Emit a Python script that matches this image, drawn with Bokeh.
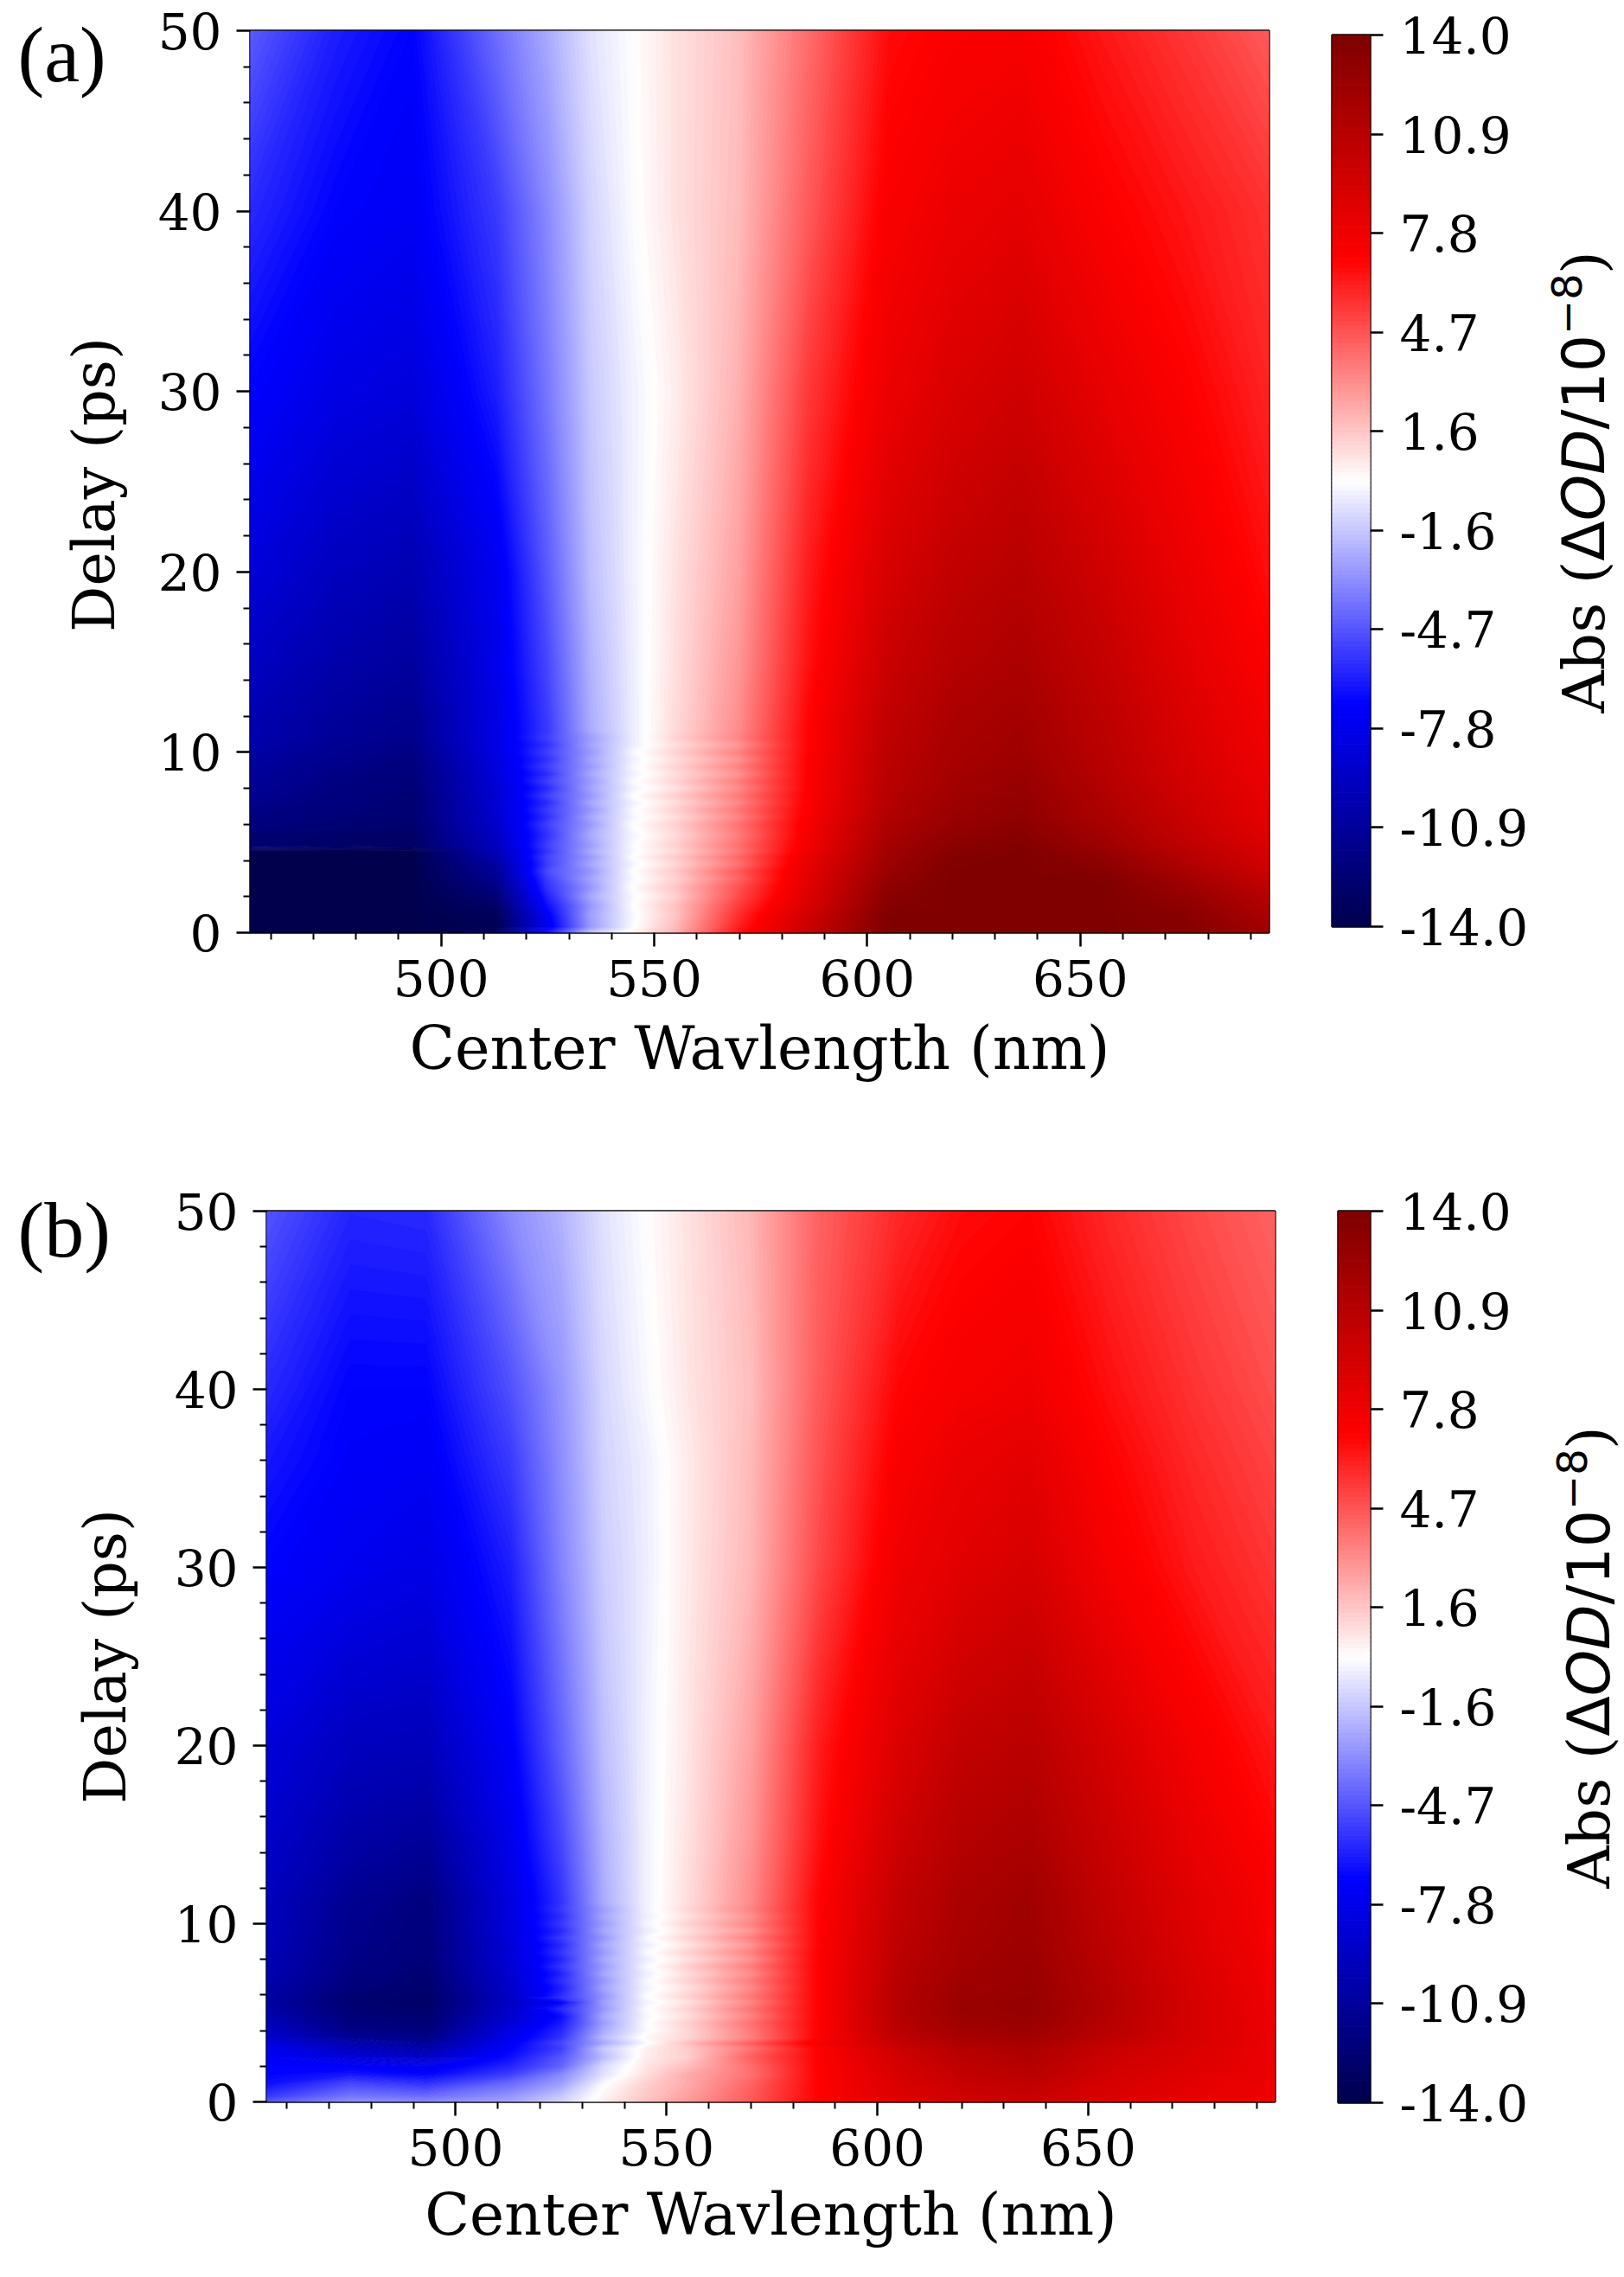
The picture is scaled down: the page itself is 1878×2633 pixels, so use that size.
#! /usr/bin/env python3
# Transient absorption maps (a) and (b) with their colour bars.

import numpy as np
from bokeh.embed import file_html
from bokeh.layouts import column, row
from bokeh.models import FixedTicker, Label, LinearAxis, Range1d
from bokeh.plotting import figure
from bokeh.resources import INLINE

wavelengths = [455, 475, 493, 513, 525, 535, 545, 555, 570, 586, 605, 620, 636, 655, 675, 695]

delays_a = [0, 0.3, 1, 1.5, 2, 2.5, 3, 3.4, 3.8, 4.2, 4.5, 4.8, 5.4, 6, 6.4, 6.8, 7.2, 7.6,
            8, 8.4, 8.8, 9.2, 9.6, 10, 10.4, 10.8, 11.2, 15, 20, 30, 40, 50]
abs_a = [
    [-13.9, -13.9, -13.9, -13.0, -6.5, -1.6, 0.3, 2.2, 6.5, 10.0, 13.95, 13.95, 13.95, 13.95, 13.6, 12.2],
    [-13.9, -13.9, -13.9, -13.6, -7.6, -2.8, -0.1, 1.9, 6.2, 9.8, 13.95, 13.95, 13.95, 13.95, 13.5, 12.0],
    [-13.9, -13.9, -13.9, -13.4, -7.2, -2.6, -0.2, 1.6, 5.8, 9.5, 13.85, 13.95, 13.95, 13.95, 13.4, 11.5],
    [-13.9, -13.9, -13.9, -12.9, -6.6, -2.9, 0.0, 1.7, 5.4, 9.0, 13.6, 13.95, 13.95, 13.95, 13.1, 11.1],
    [-13.9, -13.9, -13.9, -12.4, -6.1, -2.4, -0.2, 1.3, 5.0, 8.8, 13.4, 13.95, 13.95, 13.95, 12.8, 10.8],
    [-13.9, -13.9, -13.9, -11.9, -5.6, -2.9, 0.1, 1.6, 4.8, 8.6, 13.1, 13.95, 13.95, 13.9, 12.4, 10.4],
    [-13.9, -13.9, -13.9, -11.3, -5.3, -2.5, -0.2, 1.2, 4.3, 8.5, 12.8, 13.95, 13.95, 13.8, 12.0, 10.0],
    [-13.9, -13.9, -13.9, -10.9, -4.9, -2.9, 0.0, 1.5, 4.6, 8.3, 12.6, 13.9, 13.95, 13.5, 11.7, 9.7],
    [-13.9, -13.9, -13.9, -10.6, -5.3, -2.4, -0.3, 1.1, 3.9, 8.2, 12.4, 13.8, 13.95, 13.2, 11.3, 9.4],
    [-13.9, -13.9, -13.9, -10.1, -5.1, -2.8, 0.0, 1.4, 4.2, 8.0, 12.2, 13.7, 13.95, 13.0, 11.0, 9.2],
    [-13.9, -13.9, -13.9, -9.8, -5.5, -2.3, -0.2, 1.0, 3.7, 7.8, 12.1, 13.5, 13.9, 12.7, 10.8, 9.0],
    [-12.6, -12.9, -13.0, -9.5, -5.2, -2.7, -0.1, 1.3, 4.0, 7.6, 12.0, 13.3, 13.8, 12.4, 10.5, 8.9],
    [-12.5, -12.8, -13.0, -9.2, -5.6, -2.3, -0.3, 1.0, 3.6, 7.5, 11.7, 13.0, 13.5, 12.1, 10.2, 8.6],
    [-12.0, -12.4, -12.7, -9.0, -5.2, -2.8, 0.0, 1.3, 3.9, 7.4, 11.5, 12.7, 13.3, 11.8, 10.0, 8.4],
    [-11.9, -12.3, -12.6, -8.9, -5.7, -2.4, -0.3, 0.9, 3.4, 7.3, 11.3, 12.5, 13.1, 11.6, 9.9, 8.3],
    [-11.7, -12.2, -12.5, -8.8, -5.3, -2.9, -0.1, 1.3, 3.8, 7.2, 11.2, 12.4, 13.0, 11.5, 9.8, 8.2],
    [-11.5, -12.1, -12.5, -8.7, -5.8, -2.4, -0.4, 0.9, 3.3, 7.1, 11.1, 12.3, 12.9, 11.4, 9.7, 8.2],
    [-11.3, -12.0, -12.4, -8.7, -5.2, -2.9, 0.0, 1.3, 3.7, 7.1, 11.0, 12.2, 12.8, 11.3, 9.6, 8.1],
    [-11.0, -11.9, -12.3, -8.6, -5.8, -2.5, -0.4, 0.8, 3.2, 7.0, 10.9, 12.0, 12.7, 11.2, 9.5, 8.0],
    [-11.0, -11.8, -12.3, -8.5, -5.2, -2.8, -0.1, 1.2, 3.6, 7.0, 10.8, 12.0, 12.6, 11.1, 9.4, 8.0],
    [-10.9, -11.7, -12.2, -8.4, -5.7, -2.4, -0.4, 0.9, 3.0, 7.0, 10.8, 11.9, 12.5, 11.0, 9.3, 7.9],
    [-10.8, -11.6, -12.1, -8.3, -5.2, -2.8, -0.2, 1.2, 3.5, 7.0, 10.7, 11.8, 12.4, 10.9, 9.2, 7.8],
    [-10.6, -11.4, -12.0, -8.2, -5.6, -2.5, -0.4, 0.9, 3.0, 7.0, 10.7, 11.8, 12.3, 10.9, 9.2, 7.8],
    [-10.5, -11.3, -11.8, -8.1, -5.2, -2.8, -0.2, 1.2, 3.5, 6.9, 10.6, 11.7, 12.2, 10.8, 9.1, 7.7],
    [-10.3, -11.2, -11.7, -8.0, -5.6, -2.5, -0.5, 0.9, 2.9, 6.9, 10.6, 11.7, 12.2, 10.8, 9.1, 7.7],
    [-10.1, -11.0, -11.5, -8.0, -5.2, -2.7, -0.5, 1.2, 3.4, 6.9, 10.5, 11.6, 12.1, 10.7, 9.0, 7.6],
    [-10.1, -11.0, -11.5, -8.0, -5.4, -2.3, -0.5, 1.0, 3.2, 6.9, 10.5, 11.6, 12.1, 10.7, 9.0, 7.6],
    [-9.3, -10.3, -10.8, -7.8, -5.0, -2.1, -0.45, 0.9, 2.9, 6.5, 9.9, 11.0, 11.5, 10.2, 8.5, 7.1],
    [-8.4, -9.5, -10.0, -7.6, -4.5, -1.8, -0.4, 0.8, 2.6, 6.2, 9.2, 10.3, 10.9, 9.6, 8.0, 6.6],
    [-7.0, -8.0, -8.4, -6.2, -3.7, -1.5, -0.4, 0.5, 2.2, 5.4, 8.0, 9.0, 9.6, 8.3, 7.1, 6.0],
    [-5.9, -7.0, -7.4, -5.4, -3.2, -1.2, -0.1, 0.8, 1.9, 4.5, 7.3, 8.0, 8.4, 7.2, 6.4, 5.6],
    [-4.5, -6.2, -7.0, -4.0, -2.3, -0.8, 0.0, 0.8, 1.8, 4.0, 6.7, 7.2, 7.4, 6.4, 5.5, 4.5],
]

delays_b = [0, 0.3, 1, 1.5, 2, 2.5, 3, 3.3, 3.6, 4, 4.4, 4.8, 5.2, 5.6, 5.9, 6.4, 6.8, 7.2,
            7.6, 8, 8.4, 8.8, 9.2, 9.6, 10, 10.4, 10.8, 11.2, 15, 20, 30, 36, 40, 50]
abs_b = [
    [-4.6, -3.0, -3.2, -2.4, -1.2, 0.5, 1.7, 2.8, 4.6, 7.0, 8.7, 9.5, 9.9, 8.9, 8.2, 7.7],
    [-5.4, -3.7, -4.0, -2.9, -1.5, 0.3, 1.5, 2.6, 4.5, 7.0, 8.8, 9.6, 10.0, 9.0, 8.3, 7.8],
    [-6.6, -5.0, -5.6, -4.0, -2.6, -0.1, 1.3, 2.3, 4.3, 7.0, 9.0, 10.0, 10.4, 9.2, 8.5, 7.9],
    [-6.9, -6.3, -6.8, -5.2, -3.2, -0.8, 0.9, 2.3, 3.9, 7.0, 9.1, 10.3, 10.8, 9.4, 8.6, 7.9],
    [-7.0, -7.2, -7.6, -6.0, -4.3, -1.0, 0.7, 1.8, 4.0, 7.0, 9.3, 10.5, 11.0, 9.6, 8.8, 8.0],
    [-7.3, -8.5, -9.2, -6.6, -4.6, -1.9, 0.5, 1.3, 4.4, 7.0, 9.5, 10.8, 11.3, 9.8, 8.9, 8.0],
    [-7.6, -9.5, -10.3, -7.0, -5.3, -1.5, 0.4, 1.4, 3.8, 7.0, 9.8, 11.0, 11.5, 10.0, 9.0, 8.0],
    [-8.2, -10.2, -11.0, -7.3, -5.0, -2.4, -0.2, 1.8, 4.5, 7.6, 10.2, 11.4, 11.8, 10.3, 9.1, 8.0],
    [-8.8, -11.0, -11.6, -7.7, -5.6, -1.9, 0.2, 1.1, 3.5, 7.0, 10.5, 11.8, 12.1, 10.6, 9.2, 8.0],
    [-9.2, -11.6, -12.0, -8.0, -5.9, -2.3, -0.2, 1.1, 3.6, 7.0, 10.8, 12.0, 12.3, 10.8, 9.2, 8.0],
    [-9.6, -12.0, -12.4, -8.5, -6.3, -2.7, -0.1, 1.3, 3.9, 7.0, 10.9, 12.2, 12.5, 10.9, 9.2, 7.9],
    [-10.0, -12.2, -12.6, -8.8, -6.7, -2.4, -0.3, 0.9, 3.4, 7.0, 11.0, 12.4, 12.6, 11.0, 9.2, 7.9],
    [-10.3, -12.4, -12.8, -9.0, -5.9, -2.9, -0.1, 1.2, 3.8, 7.0, 11.0, 12.5, 12.7, 11.1, 9.2, 7.8],
    [-10.5, -12.6, -13.0, -9.2, -7.2, -2.6, -0.4, 0.8, 3.3, 7.0, 11.1, 12.5, 12.7, 11.1, 9.2, 7.8],
    [-10.4, -12.5, -12.9, -9.2, -5.7, -3.0, -0.1, 1.2, 3.7, 7.0, 11.0, 12.4, 12.6, 11.0, 9.1, 7.8],
    [-10.3, -12.1, -12.7, -9.0, -6.2, -2.5, -0.4, 0.8, 3.2, 7.0, 11.0, 12.3, 12.6, 10.9, 9.1, 7.7],
    [-10.1, -12.0, -12.6, -8.9, -5.7, -2.9, -0.2, 1.2, 3.6, 7.0, 10.9, 12.2, 12.5, 10.9, 9.0, 7.7],
    [-10.0, -11.9, -12.5, -8.8, -6.1, -2.4, -0.5, 0.9, 3.1, 7.0, 10.9, 12.1, 12.5, 10.8, 9.0, 7.6],
    [-9.9, -11.8, -12.4, -8.7, -5.5, -2.8, -0.2, 1.3, 3.6, 7.0, 10.8, 12.0, 12.5, 10.8, 8.9, 7.6],
    [-9.8, -11.7, -12.3, -8.6, -6.0, -2.4, -0.5, 0.8, 3.0, 7.0, 10.7, 11.9, 12.4, 10.7, 8.9, 7.5],
    [-9.8, -11.6, -12.2, -8.5, -5.5, -2.8, -0.2, 1.2, 3.5, 7.0, 10.6, 11.9, 12.4, 10.6, 8.8, 7.5],
    [-9.7, -11.6, -12.2, -8.5, -5.9, -2.4, -0.5, 0.7, 2.9, 6.9, 10.6, 11.8, 12.3, 10.6, 8.8, 7.4],
    [-9.7, -11.5, -12.1, -8.4, -5.4, -2.9, -0.2, 1.2, 3.5, 6.9, 10.5, 11.8, 12.3, 10.5, 8.7, 7.4],
    [-9.6, -11.5, -12.1, -8.3, -5.9, -2.4, -0.6, 0.8, 2.9, 6.9, 10.5, 11.7, 12.3, 10.5, 8.7, 7.4],
    [-9.6, -11.4, -12.1, -8.3, -5.4, -2.8, -0.3, 1.2, 3.4, 6.9, 10.4, 11.7, 12.2, 10.4, 8.7, 7.3],
    [-9.5, -11.4, -12.1, -8.2, -5.8, -2.4, -0.5, 0.8, 3.0, 6.9, 10.4, 11.6, 12.2, 10.4, 8.6, 7.3],
    [-9.5, -11.3, -12.0, -8.2, -5.4, -2.7, -0.4, 1.1, 3.4, 6.9, 10.3, 11.6, 12.2, 10.3, 8.6, 7.3],
    [-9.5, -11.3, -12.0, -8.2, -5.6, -2.3, -0.4, 0.9, 3.2, 6.9, 10.3, 11.6, 12.2, 10.3, 8.6, 7.3],
    [-9.0, -10.4, -10.9, -7.7, -5.0, -2.1, -0.4, 0.8, 2.9, 6.5, 9.6, 11.0, 11.5, 9.8, 8.1, 6.8],
    [-8.4, -9.5, -9.7, -7.2, -4.3, -1.8, -0.4, 0.7, 2.6, 6.2, 8.9, 10.3, 10.8, 9.2, 7.5, 6.3],
    [-7.0, -7.6, -8.0, -6.2, -3.4, -1.4, -0.5, 0.6, 2.0, 5.0, 7.8, 8.6, 9.2, 7.5, 6.3, 5.5],
    [-6.4, -7.2, -7.4, -5.4, -3.1, -1.2, -0.45, 0.55, 1.9, 4.7, 7.3, 8.1, 8.5, 7.0, 5.9, 5.1],
    [-5.9, -7.0, -7.0, -4.8, -2.9, -1.1, -0.2, 0.7, 1.8, 4.5, 6.9, 7.5, 7.8, 6.6, 5.6, 4.8],
    [-4.7, -6.0, -5.9, -3.2, -2.1, -0.8, 0.0, 0.8, 2.0, 4.3, 5.9, 6.7, 7.0, 5.9, 5.0, 4.3],
]

x_ticks = [500, 550, 600, 650]
x_minor = [460, 470, 480, 490, 510, 520, 530, 540, 560, 570, 580, 590, 610, 620, 630, 640, 660, 670, 680, 690]
y_ticks = [0, 10, 20, 30, 40, 50]
y_minor = [2, 4, 6, 8, 12, 14, 16, 18, 22, 24, 26, 28, 32, 34, 36, 38, 42, 44, 46, 48]
bar_labels = ["-14.0", "-10.9", "-7.8", "-4.7", "-1.6", "1.6", "4.7", "7.8", "10.9", "14.0"]

SERIF = "DejaVu Serif"
SANS = "DejaVu Sans"
LEVELS = np.linspace(-14, 14, 201)
SEISMIC = [(0, 0, 76), (0, 0, 255), (255, 255, 255), (255, 0, 0), (127, 0, 0)]
BASELINE_FIX = 0.33  # an "alphabetic" Label sits this many em past its anchor


def make_palette():
    mids = (LEVELS[:-1] + LEVELS[1:]) / 2
    stops = [-14, -7, 0, 7, 14]
    channels = [np.interp(mids, stops, [c[i] for c in SEISMIC]) for i in range(3)]
    return ["#%02x%02x%02x" % (int(r), int(g), int(b)) for r, g, b in zip(*channels)]


PALETTE = make_palette()


def style_ticks(axis):
    axis.axis_line_color = None
    axis.major_tick_in = 0
    axis.major_tick_out = 16
    axis.major_tick_line_width = 2.5
    axis.minor_tick_in = 0
    axis.minor_tick_out = 8
    axis.minor_tick_line_width = 2
    axis.major_label_text_font = SERIF
    axis.major_label_text_font_size = "58px"
    axis.major_label_text_color = "black"
    axis.axis_label_text_font = SERIF
    axis.axis_label_text_font_style = "normal"
    axis.axis_label_text_color = "black"


def heatmap(delays, values, width, height, borders, label_size, label_standoff):
    left, right, top, bottom = borders
    p = figure(width=width, height=height, min_border_left=left, min_border_right=right,
               min_border_top=top, min_border_bottom=bottom, output_backend="svg", frame_align=False,
               toolbar_location=None, x_range=Range1d(455.2, 694.3), y_range=Range1d(0, 50))
    # the under layer, half a band off, shows through the seams of the upper one
    half = (LEVELS[1] - LEVELS[0]) / 2
    p.contour(wavelengths, delays, np.array(values), LEVELS[:-1] + half, fill_color=PALETTE[:-1])
    p.contour(wavelengths, delays, np.array(values), LEVELS, fill_color=PALETTE)
    p.grid.visible = False
    p.outline_line_color = "black"
    p.outline_line_width = 2.5
    p.xaxis.ticker = FixedTicker(ticks=x_ticks, minor_ticks=x_minor)
    p.yaxis.ticker = FixedTicker(ticks=y_ticks, minor_ticks=y_minor)
    p.xaxis.axis_label = "Center Wavlength (nm)"
    for axis in (p.xaxis[0], p.yaxis[0]):
        style_ticks(axis)
    p.xaxis.axis_label_text_font_size = label_size
    p.yaxis.major_label_orientation = "horizontal"
    p.xaxis.major_label_standoff = 14
    p.yaxis.major_label_standoff = 17
    p.xaxis.axis_label_standoff = label_standoff
    return p


def colorbar(width, height, borders):
    left, right, top, bottom = borders
    p = figure(width=width, height=height, min_border_left=left, min_border_right=right,
               min_border_top=top, min_border_bottom=bottom, output_backend="svg", frame_align=False,
               toolbar_location=None, x_range=Range1d(0, 1), y_range=Range1d(-14, 14),
               y_axis_location=None)
    p.quad(left=0, right=1, bottom=LEVELS[:-1], top=LEVELS[1:], fill_color=PALETTE, line_color=PALETTE)
    p.grid.visible = False
    p.xaxis.visible = False
    p.outline_line_color = "black"
    p.outline_line_width = 2.5

    ticks = list(np.linspace(-14, 14, 10))
    axis = LinearAxis(ticker=FixedTicker(ticks=ticks),
                      major_label_overrides={t: s for t, s in zip(ticks, bar_labels)})
    style_ticks(axis)
    axis.major_tick_out = 15
    axis.major_label_standoff = 19
    p.add_layout(axis, "right")
    return p


def text_strip(x0, x1, y0, y1):
    # bare figure whose data units are page pixels, only carries labels
    p = figure(width=x1 - x0, height=y1 - y0, min_border=0, outline_line_color=None, frame_align=False,
               output_backend="svg", toolbar_location=None, x_range=Range1d(x0, x1),
               y_range=Range1d(y1, y0), x_axis_location=None, y_axis_location=None)
    p.grid.visible = False
    return p


def left_strip(x1, y0, y1, tag, tag_x, tag_y, delay_x, delay_y):
    p = text_strip(0, x1, y0, y1)
    p.add_layout(Label(x=tag_x, y=tag_y - BASELINE_FIX * 92, text=tag, text_font="Liberation Serif",
                       text_font_size="92px", text_baseline="alphabetic", text_color="black"))
    p.add_layout(Label(x=delay_x - BASELINE_FIX * 66.5, y=delay_y, text="Delay (ps)", text_font=SERIF,
                       text_font_size="66.5px", angle=90, angle_units="deg", text_align="center",
                       text_baseline="alphabetic", text_color="black"))
    return p


def right_strip(y0, y1, base_x, start_y):
    p = text_strip(1770, 1876, y0, y1)
    size = 68
    # Abs (dOD/10^-8), set piece by piece since the fonts differ along the line
    pieces = [("Abs (", SERIF, "normal", 1, 0, 2.583), ("\u0394", SANS, "normal", 1, 0, 0.684),
              ("OD", SANS, "italic", 1, 0, 1.557), ("/10", SANS, "normal", 1, 0, 1.609),
              ("\u22128", SANS, "normal", 0.7, 0.38, 1.032), (")", SERIF, "normal", 1, 0, 0.39)]
    run = 0
    for text, font, style, scale, lift, advance in pieces:
        font_px = size * scale
        p.add_layout(Label(x=base_x - lift * size - BASELINE_FIX * font_px, y=start_y - run * size, text=text,
                           text_font=font, text_font_style=style, text_font_size="%dpx" % round(font_px),
                           angle=90, angle_units="deg", text_align="left", text_baseline="alphabetic",
                           text_color="black"))
        run += advance
    return p


strip_a = left_strip(165, 0, 1300, "(a)", 20, 93, 130, 560)
heat_a = heatmap(delays_a, abs_a, 1335, 1300, (124, 33, 35, 222), "68.5px", 17)
bar_a = colorbar(270, 1300, (40, 177, 40, 229))
side_a = right_strip(0, 1300, 1853, 824)

strip_b = left_strip(165, 1300, 2625, "(b)", 20, 1452, 143, 1915)
heat_b = heatmap(delays_b, abs_b, 1335, 1325, (143, 26, 100, 195), "67.7px", 14)
bar_b = colorbar(270, 1325, (47, 170, 100, 194))
side_b = right_strip(1300, 2625, 1859, 2183)

layout = column(row(strip_a, heat_a, bar_a, side_a), row(strip_b, heat_b, bar_b, side_b))
open("out.html", "w").write(file_html(layout, INLINE))
